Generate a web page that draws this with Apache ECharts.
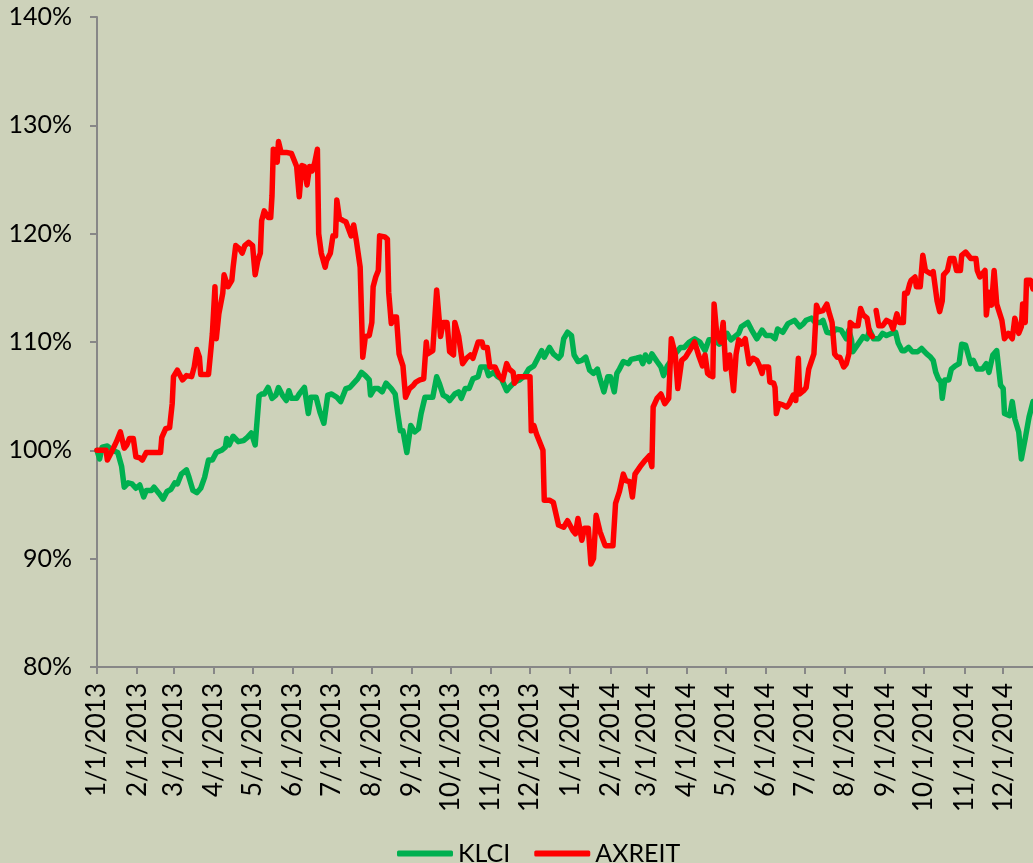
<!DOCTYPE html>
<html>
<head>
<meta charset="utf-8">
<script src="https://cdn.jsdelivr.net/npm/echarts@6/dist/echarts.min.js"></script>
<style>
  html, body { margin: 0; padding: 0; background: #cdd2ba; }
  #chart { width: 1033px; height: 863px; }
</style>
</head>
<body>
<div id="chart"></div>
<script>
// axis range (daily categories)
const startDate = [2013, 1, 1]
const endDate = [2014, 12, 24]
const yTicks = [80, 90, 100, 110, 120, 130, 140]

// KLCI, rebased to 100% on 1/1/2013
const klciDates = [
  '1/1/2013','1/3/2013','1/5/2013','1/9/2013','1/13/2013','1/17/2013','1/20/2013','1/22/2013','1/25/2013','1/28/2013','1/31/2013',
  '2/3/2013','2/6/2013','2/8/2013','2/12/2013','2/14/2013','2/18/2013','2/21/2013','2/24/2013','2/27/2013',
  '3/2/2013','3/4/2013','3/7/2013','3/11/2013','3/13/2013','3/16/2013','3/19/2013','3/22/2013','3/25/2013','3/28/2013','3/31/2013',
  '4/3/2013','4/7/2013','4/10/2013','4/11/2013','4/13/2013','4/16/2013','4/20/2013','4/24/2013','4/27/2013','4/30/2013',
  '5/3/2013','5/6/2013','5/8/2013','5/10/2013','5/13/2013','5/16/2013','5/19/2013','5/21/2013','5/24/2013','5/27/2013','5/29/2013','5/31/2013',
  '6/4/2013','6/6/2013','6/10/2013','6/13/2013','6/15/2013','6/19/2013','6/22/2013','6/25/2013','6/28/2013',
  '7/1/2013','7/5/2013','7/8/2013','7/12/2013','7/15/2013','7/18/2013','7/21/2013','7/24/2013','7/27/2013','7/30/2013','7/31/2013',
  '8/3/2013','8/6/2013','8/9/2013','8/12/2013','8/16/2013','8/19/2013','8/21/2013','8/23/2013','8/25/2013','8/28/2013','8/31/2013',
  '9/3/2013','9/6/2013','9/8/2013','9/11/2013','9/13/2013','9/17/2013','9/20/2013','9/22/2013','9/25/2013','9/28/2013','9/30/2013',
  '10/4/2013','10/7/2013','10/9/2013','10/12/2013','10/15/2013','10/18/2013','10/22/2013','10/24/2013','10/28/2013','10/30/2013',
  '11/3/2013','11/6/2013','11/9/2013','11/13/2013','11/15/2013','11/19/2013','11/23/2013','11/27/2013','11/30/2013',
  '12/4/2013','12/7/2013','12/10/2013','12/12/2013','12/16/2013','12/19/2013','12/23/2013','12/25/2013','12/27/2013','12/30/2013',
  '1/2/2014','1/4/2014','1/7/2014','1/10/2014','1/13/2014','1/16/2014','1/19/2014','1/22/2014','1/24/2014','1/27/2014','1/30/2014',
  '2/1/2014','2/4/2014','2/6/2014','2/8/2014','2/11/2014','2/15/2014','2/17/2014','2/21/2014','2/24/2014','2/26/2014','2/28/2014',
  '3/3/2014','3/5/2014','3/9/2014','3/12/2014','3/14/2014','3/17/2014','3/20/2014','3/23/2014','3/27/2014','3/30/2014',
  '4/3/2014','4/7/2014','4/11/2014','4/15/2014','4/18/2014','4/22/2014','4/26/2014','4/29/2014',
  '5/2/2014','5/5/2014','5/8/2014','5/11/2014','5/13/2014','5/18/2014','5/21/2014','5/25/2014','5/29/2014',
  '6/1/2014','6/5/2014','6/8/2014','6/10/2014','6/14/2014','6/18/2014','6/23/2014','6/27/2014','6/30/2014',
  '7/2/2014','7/6/2014','7/9/2014','7/13/2014','7/15/2014','7/18/2014','7/22/2014','7/25/2014','7/29/2014',
  '8/2/2014','8/4/2014','8/6/2014','8/7/2014','8/11/2014','8/15/2014','8/18/2014','8/20/2014','8/23/2014','8/27/2014','8/30/2014',
  '9/2/2014','9/6/2014','9/9/2014','9/11/2014','9/14/2014','9/16/2014','9/19/2014','9/22/2014','9/26/2014','9/29/2014',
  '10/3/2014','10/6/2014','10/8/2014','10/10/2014','10/12/2014','10/14/2014','10/15/2014','10/17/2014','10/20/2014','10/22/2014','10/25/2014','10/28/2014','10/30/2014',
  '11/2/2014','11/6/2014','11/8/2014','11/11/2014','11/15/2014','11/18/2014','11/20/2014','11/23/2014','11/26/2014','11/29/2014',
  '12/1/2014','12/2/2014','12/6/2014','12/8/2014','12/10/2014','12/13/2014','12/15/2014','12/18/2014','12/21/2014','12/24/2014'
]
const klciValues = [
  100.0, 99.2, 100.3, 100.4, 100.0, 99.8, 98.5, 96.6, 97.0, 96.9, 96.5,
  96.8, 95.7, 96.3, 96.3, 96.6, 96.0, 95.5, 96.2, 96.4,
  97.0, 96.9, 97.8, 98.2, 97.5, 96.3, 96.1, 96.5, 97.5, 99.1, 99.1,
  99.8, 100.0, 100.3, 101.1, 100.5, 101.3, 100.8, 100.9, 101.2, 101.6,
  100.5, 105.0, 105.2, 105.2, 105.8, 104.8, 105.1, 105.8, 105.1, 104.6, 105.5, 104.8,
  104.8, 105.2, 105.8, 103.4, 104.9, 104.9, 103.5, 102.5, 105.1,
  105.2, 104.9, 104.5, 105.7, 105.8, 106.2, 106.6, 107.2, 106.9, 106.5, 105.1,
  105.7, 105.7, 105.4, 106.2, 105.7, 105.2, 103.4, 101.8, 101.8, 99.8, 102.3,
  101.7, 102.0, 103.4, 104.9, 104.9, 104.9, 106.8, 106.2, 105.1, 104.9, 104.6,
  105.2, 105.4, 104.8, 105.7, 105.7, 106.6, 106.8, 107.7, 107.7, 106.9,
  107.2, 106.8, 106.6, 105.5, 105.8, 106.3, 106.5, 106.9, 107.5,
  107.8, 108.5, 109.2, 108.6, 109.5, 108.9, 108.5, 108.8, 110.3, 110.9,
  110.6, 108.8, 108.2, 108.3, 108.6, 107.4, 107.1, 107.5, 106.6, 105.4, 106.8,
  106.8, 105.4, 107.1, 107.5, 108.2, 108.0, 108.4, 108.5, 108.6, 108.0, 108.8,
  108.2, 108.9, 108.2, 107.7, 106.9, 107.8, 108.3, 108.9, 109.5, 109.5,
  110.0, 110.3, 110.0, 109.2, 110.2, 110.2, 109.8, 110.0,
  110.8, 110.2, 110.5, 110.8, 111.4, 111.8, 111.1, 110.3, 111.1,
  110.6, 110.6, 110.3, 111.2, 110.9, 111.7, 112.0, 111.4, 111.7,
  112.0, 112.2, 111.8, 111.8, 112.0, 110.9, 110.8, 111.2, 111.1,
  110.3, 111.1, 110.2, 109.1, 109.8, 110.5, 110.3, 111.1, 110.3, 110.3, 110.8,
  110.6, 110.8, 110.9, 109.9, 109.2, 109.2, 109.5, 109.1, 109.1, 109.4,
  108.9, 108.6, 108.3, 107.2, 106.6, 106.3, 104.8, 106.5, 106.5, 107.5, 107.8, 108.0, 109.8,
  109.7, 108.0, 108.3, 107.5, 107.5, 108.0, 107.2, 108.8, 109.2, 106.0,
  105.7, 103.4, 103.2, 104.5, 102.9, 101.7, 99.2, 101.1, 103.1, 104.5
]

// AXREIT, rebased to 100% on 1/1/2013 (null = no price)
const axreitDates = [
  '1/1/2013','1/8/2013','1/9/2013','1/12/2013','1/16/2013','1/19/2013','1/22/2013','1/24/2013','1/26/2013','1/29/2013','1/31/2013',
  '2/3/2013','2/5/2013','2/8/2013','2/19/2013','2/20/2013','2/23/2013','2/26/2013','2/28/2013',
  '3/1/2013','3/4/2013','3/8/2013','3/11/2013','3/15/2013','3/17/2013','3/19/2013','3/21/2013','3/22/2013','3/28/2013','3/30/2013','3/31/2013',
  '4/2/2013','4/3/2013','4/5/2013','4/8/2013','4/9/2013','4/12/2013','4/15/2013','4/16/2013','4/18/2013','4/21/2013','4/23/2013','4/25/2013','4/28/2013',
  '5/1/2013','5/3/2013','5/5/2013','5/7/2013','5/8/2013','5/10/2013','5/13/2013','5/15/2013','5/16/2013','5/17/2013','5/19/2013','5/20/2013','5/21/2013','5/23/2013','5/27/2013','5/31/2013',
  '6/3/2013','6/4/2013','6/6/2013','6/8/2013','6/10/2013','6/12/2013','6/14/2013','6/16/2013','6/18/2013','6/20/2013','6/21/2013','6/23/2013','6/26/2013','6/27/2013','6/30/2013',
  '7/2/2013','7/4/2013','7/5/2013','7/7/2013','7/10/2013','7/12/2013','7/16/2013','7/18/2013','7/20/2013','7/23/2013','7/25/2013','7/27/2013','7/30/2013',
  '8/1/2013','8/2/2013','8/4/2013','8/6/2013','8/7/2013','8/11/2013','8/13/2013','8/14/2013','8/16/2013','8/18/2013','8/20/2013','8/22/2013','8/25/2013','8/27/2013','8/30/2013',
  '9/2/2013','9/4/2013','9/7/2013','9/10/2013','9/12/2013','9/13/2013','9/17/2013','9/20/2013','9/22/2013','9/23/2013','9/25/2013','9/28/2013','9/30/2013',
  '10/3/2013','10/4/2013','10/7/2013','10/10/2013','10/13/2013','10/16/2013','10/18/2013','10/22/2013','10/25/2013','10/26/2013','10/29/2013','10/31/2013',
  '11/4/2013','11/7/2013','11/10/2013','11/13/2013','11/15/2013','11/18/2013','11/19/2013','11/22/2013','11/26/2013',
  '12/1/2013','12/2/2013','12/4/2013','12/6/2013','12/9/2013','12/11/2013','12/12/2013','12/16/2013','12/19/2013','12/23/2013','12/27/2013','12/30/2013',
  '1/3/2014','1/5/2014','1/7/2014','1/10/2014','1/12/2014','1/15/2014','1/17/2014','1/19/2014','1/21/2014','1/24/2014','1/28/2014',
  '2/3/2014','2/5/2014','2/8/2014','2/11/2014','2/13/2014','2/16/2014','2/18/2014','2/20/2014','2/24/2014','2/28/2014',
  '3/3/2014','3/5/2014','3/6/2014','3/9/2014','3/12/2014','3/15/2014','3/18/2014','3/20/2014','3/23/2014','3/25/2014','3/28/2014','3/31/2014',
  '4/4/2014','4/7/2014','4/10/2014','4/13/2014','4/15/2014','4/17/2014','4/19/2014','4/21/2014','4/22/2014','4/24/2014','4/27/2014','4/29/2014',
  '5/1/2014','5/4/2014','5/7/2014','5/9/2014','5/11/2014','5/13/2014','5/16/2014','5/19/2014','5/22/2014','5/25/2014','5/27/2014','5/29/2014','5/30/2014',
  '6/3/2014','6/4/2014','6/7/2014','6/8/2014','6/9/2014','6/11/2014','6/14/2014','6/17/2014','6/19/2014','6/22/2014','6/24/2014','6/26/2014','6/27/2014','6/30/2014',
  '7/2/2014','7/4/2014','7/6/2014','7/8/2014','7/10/2014','7/12/2014','7/15/2014','7/18/2014','7/20/2014','7/22/2014','7/24/2014','7/26/2014','7/28/2014','7/31/2014',
  '8/2/2014','8/4/2014','8/5/2014','8/8/2014','8/11/2014','8/13/2014','8/15/2014','8/18/2014','8/20/2014','8/22/2014','8/24/2014','8/25/2014','8/27/2014','8/30/2014',
  '9/2/2014','9/5/2014','9/7/2014','9/10/2014','9/12/2014','9/15/2014','9/16/2014','9/18/2014','9/20/2014','9/21/2014','9/24/2014','9/25/2014','9/28/2014','9/30/2014',
  '10/2/2014','10/6/2014','10/8/2014','10/11/2014','10/13/2014','10/15/2014','10/16/2014','10/19/2014','10/21/2014','10/24/2014','10/26/2014','10/29/2014','10/30/2014',
  '11/2/2014','11/6/2014','11/10/2014','11/11/2014','11/13/2014','11/17/2014','11/18/2014','11/20/2014','11/22/2014','11/24/2014','11/26/2014','11/27/2014','11/30/2014',
  '12/2/2014','12/5/2014','12/8/2014','12/10/2014','12/13/2014','12/15/2014','12/16/2014','12/18/2014','12/19/2014','12/22/2014','12/24/2014'
]
const axreitValues = [
  100.0, 100.0, 99.1, 99.8, 100.8, 101.7, 100.2, 100.5, 101.1, 101.1, 99.4,
  99.3, 99.1, 99.8, 99.8, 101.2, 102.0, 102.1, 104.3,
  106.8, 107.4, 106.5, 106.9, 106.8, 107.7, 109.3, 108.6, 107.0, 107.0, 109.5, 110.8,
  115.1, 110.3, 112.6, 114.5, 116.2, 115.1, 115.7, 116.9, 118.9, 118.6, 118.2, 118.9, 119.2,
  118.9, 116.2, 117.5, 118.2, 121.2, 122.1, 121.5, 121.5, 123.5, 127.8, 127.7, 126.6, 128.5, 127.5, 127.5, 127.4,
  126.5, 126.2, 123.4, 126.3, 126.2, 124.5, 126.2, 125.8, 126.6, 127.8, 120.0, 118.2, 116.9, 117.5, 118.2,
  119.8, 119.8, 123.1, 121.4, 121.2, 121.1, 119.8, 120.8, 119.4, 116.9, 108.6, 110.5, 110.6,
  111.8, 115.1, 116.0, 116.6, 119.8, 119.7, 119.5, 114.6, 111.7, 112.3, 112.3, 108.9, 107.8, 104.9, 105.7,
  106.0, 106.3, 106.5, 106.6, 110.0, 108.9, 109.2, 114.8, 112.0, 110.5, 111.8, 111.8, 109.1,
  108.8, 111.8, 110.5, 108.0, 108.5, 108.8, 108.5, 110.0, 110.0, 109.5, 109.5, 107.7,
  107.7, 106.9, 106.5, 108.0, 107.5, 107.2, 106.2, 106.8, 106.8,
  106.8, 101.8, 102.3, 101.5, 100.6, 100.0, 95.4, 95.4, 95.2, 93.1, 92.9, 93.5,
  92.6, 92.3, 93.7, 91.7, 92.8, 92.8, 89.5, 90.0, 94.0, 92.5, 91.2,
  91.2, 95.1, 96.2, 97.8, 97.2, 97.1, 95.7, 97.8, 98.5, 99.1,
  99.5, 98.5, 104.0, 104.8, 105.2, 104.3, 104.8, 110.3, 108.9, 105.7, 108.3, 108.6,
  109.4, 110.0, 108.8, 107.8, 108.8, 107.1, 106.9, 106.8, 113.5, 110.8, 110.0, 111.8,
  107.5, 108.8, 105.5, 108.9, 110.2, 109.8, 110.3, 108.0, 108.5, 108.3, 107.8, 107.1, 107.7,
  107.7, 106.3, 106.2, 105.8, 103.4, 104.3, 104.2, 104.0, 104.3, 105.1, 104.6, 108.5, 105.2, 105.5,
  105.8, 107.5, 108.2, 108.9, 113.4, 112.8, 112.9, 113.5, 112.6, 111.8, 108.9, 108.6, 108.6, 107.7,
  108.0, 108.9, 111.8, 111.5, 111.5, 113.1, 112.5, 112.2, 110.8, 110.5, null, 112.9, 111.5, 111.5,
  112.0, 111.8, 111.2, 112.6, 111.8, 111.8, 114.5, 114.5, 115.4, 115.7, 116.0, 115.1, 115.1, 118.0,
  116.6, 116.3, 116.5, 113.8, 112.8, 113.8, 116.2, 116.6, 117.7, 117.7, 116.6, 116.6, 118.0,
  118.3, 117.7, 117.7, 116.6, 116.0, 116.6, 112.5, 114.6, 113.4, 116.6, 113.5, 113.5, 112.0,
  110.3, 110.8, 110.3, 112.2, 110.8, 111.4, 113.5, 111.8, 115.7, 115.7, 114.9
]

//每天一个类目，和Excel的日期轴一样
function buildDays(from, to) {
  let list = []
  let t = Date.UTC(from[0], from[1] - 1, from[2])
  const end = Date.UTC(to[0], to[1] - 1, to[2])
  while (t <= end) {
    const d = new Date(t)
    list.push((d.getUTCMonth() + 1) + '/' + d.getUTCDate() + '/' + d.getUTCFullYear())
    t += 86400000
  }
  return list
}
const days = buildDays(startDate, endDate)
//只在每月1号显示刻度和标签
const isMonthStart = (index, value) => value.split('/')[1] === '1'

const font = 'Lato, "DejaVu Sans", sans-serif'
const axisGrey = '#878787'

let mycharts = echarts.init(document.getElementById('chart'))
mycharts.setOption({
  backgroundColor: '#cdd2ba',
  animation: false,
  grid: {
    left: 97,
    top: 17,
    right: 0,
    bottom: 196,
  },
  legend: {
    left: 392,
    top: 836,
    itemWidth: 56,
    itemHeight: 6,
    itemGap: 24,
    textStyle: { fontFamily: font, fontSize: 25, color: '#000' },
    data: [
      { name: 'KLCI', icon: 'roundRect' },
      { name: 'AXREIT', icon: 'roundRect' },
    ],
  },
  xAxis: {
    type: 'category',
    boundaryGap: false,
    data: days,
    axisLine: { show: true, lineStyle: { color: axisGrey, width: 2 } },
    axisTick: {
      show: true,
      interval: isMonthStart,
      length: 7,
      lineStyle: { color: axisGrey, width: 2 },
    },
    axisLabel: {
      interval: isMonthStart,
      rotate: 90,
      margin: 16,
      fontFamily: font,
      fontSize: 26,
      color: '#000',
    },
    splitLine: { show: false },
  },
  yAxis: {
    type: 'value',
    min: yTicks[0],
    max: yTicks[yTicks.length - 1],
    interval: yTicks[1] - yTicks[0],
    axisLine: { show: true, lineStyle: { color: axisGrey, width: 2 } },
    axisTick: { show: true, length: 7, lineStyle: { color: axisGrey, width: 2 } },
    axisLabel: {
      formatter: '{value}%',
      margin: 25,
      fontFamily: font,
      fontSize: 25,
      color: '#000',
    },
    splitLine: { show: false },
  },
  series: [
    {
      name: 'KLCI',
      type: 'line',
      data: klciDates.map((d, i) => [d, klciValues[i]]),
      showSymbol: false,
      color: '#00b050',
      lineStyle: { width: 5.5, color: '#00b050', cap: 'round', join: 'round' },
    },
    {
      name: 'AXREIT',
      type: 'line',
      data: axreitDates.map((d, i) => [d, axreitValues[i]]),
      showSymbol: false,
      connectNulls: false,
      color: '#ff0000',
      lineStyle: { width: 5.5, color: '#ff0000', cap: 'round', join: 'round' },
    },
  ],
})
</script>
</body>
</html>
